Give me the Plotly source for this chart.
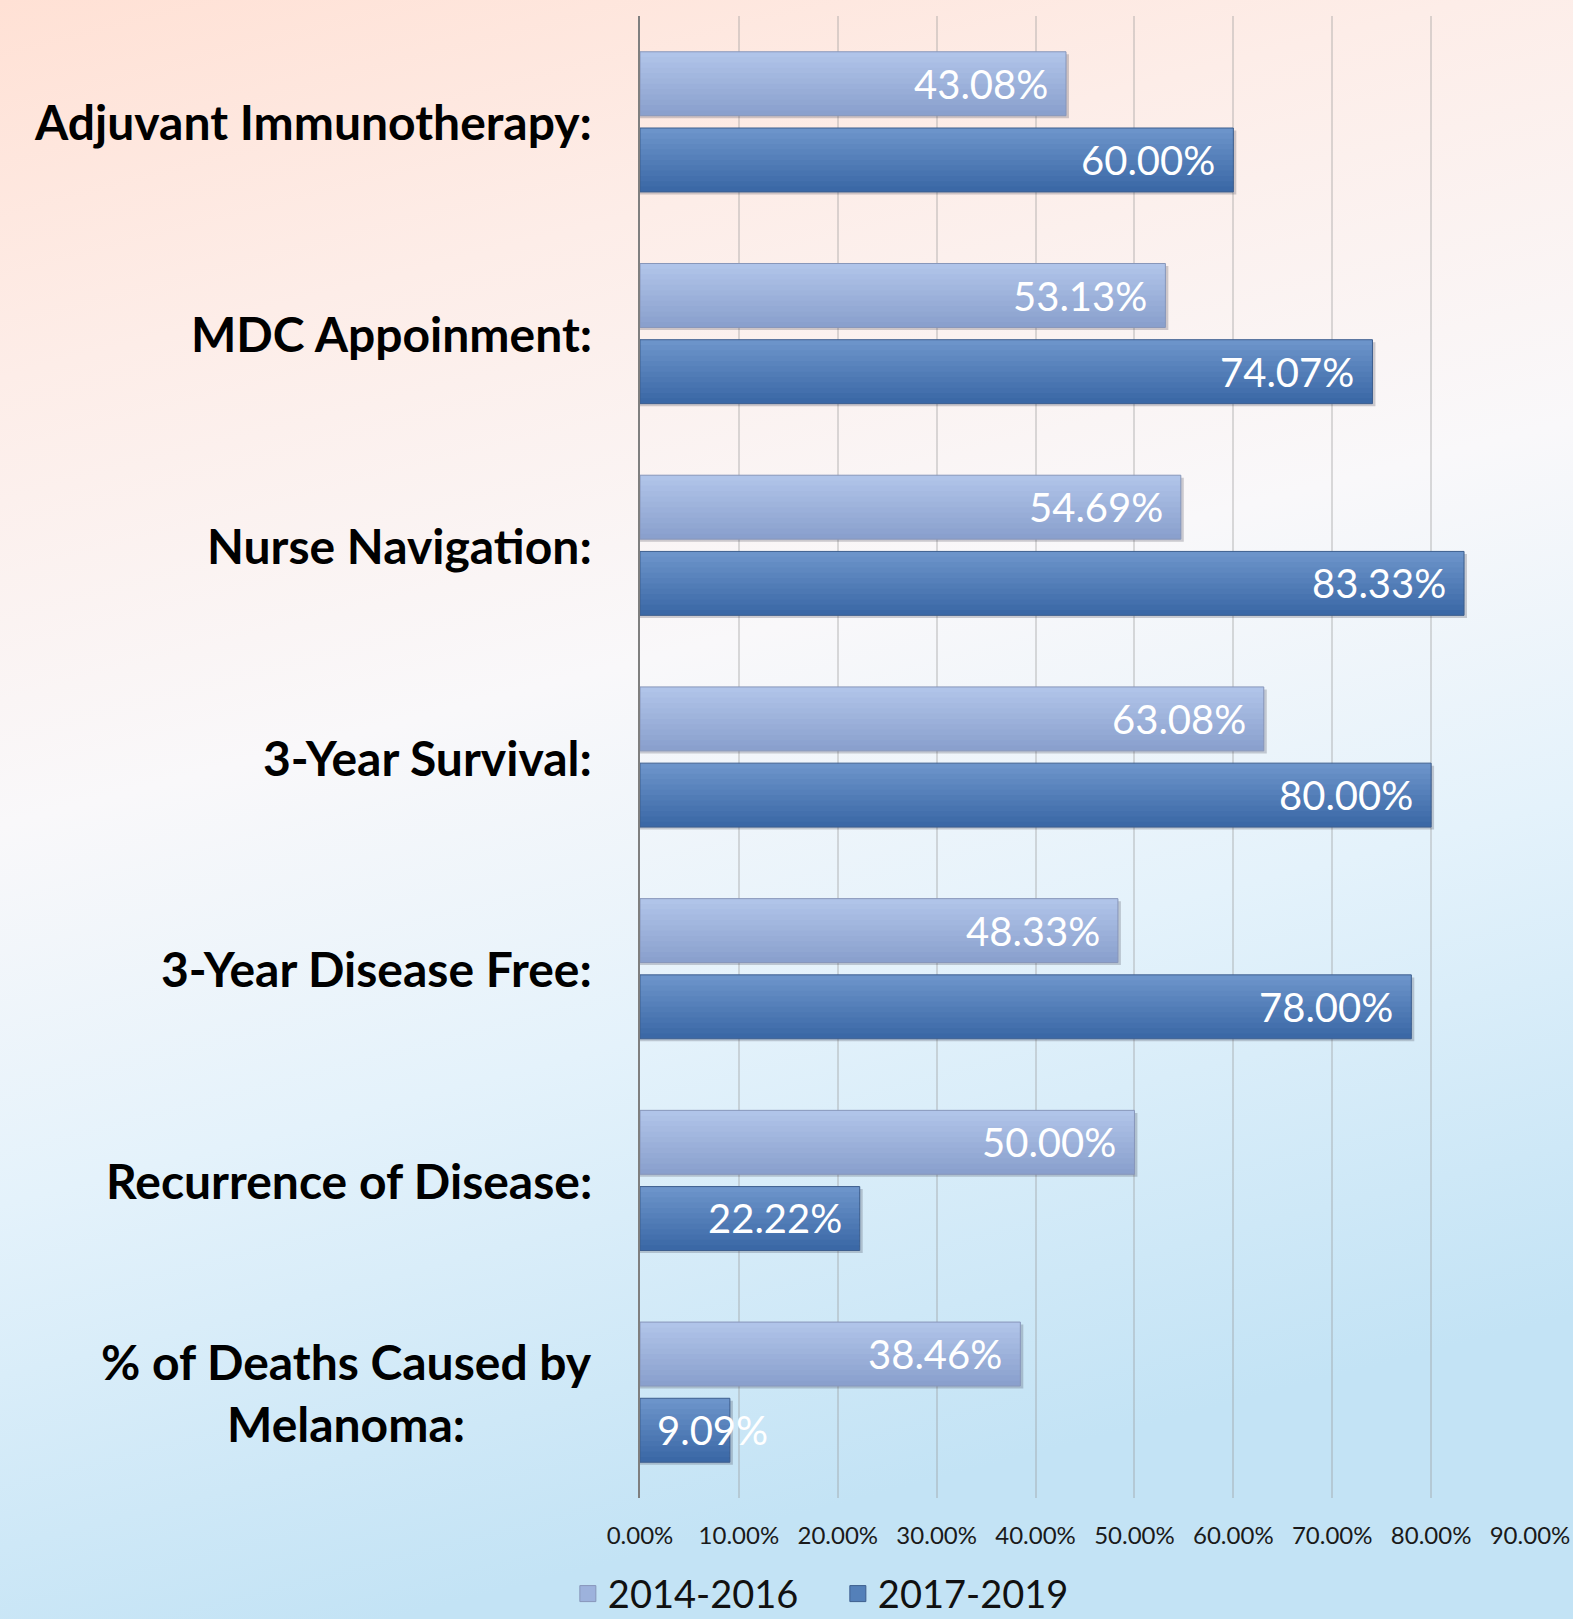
import base64
import plotly.graph_objects as go

categories = [
    "Adjuvant Immunotherapy:",
    "MDC Appoinment:",
    "Nurse Navigation:",
    "3-Year Survival:",
    "3-Year Disease Free:",
    "Recurrence of Disease:",
    "% of Deaths Caused by<br>Melanoma:",
]
series_names = ["2014-2016", "2017-2019"]
values_2014_2016 = [43.08, 53.13, 54.69, 63.08, 48.33, 50.00, 38.46]
values_2017_2019 = [60.00, 74.07, 83.33, 80.00, 78.00, 22.22, 9.09]
tick_values = [0, 10, 20, 30, 40, 50, 60, 70, 80, 90]
tick_labels = ["%.2f%%" % t for t in tick_values]

W, H = 1573, 1619
ML, MR, MT, MB = 640, 43, 16, 121
PW, PH = W - ML - MR, H - MT - MB

BAR_W = 0.302
OFFSETS = [-0.331, 0.029]
GRAD = [("#B0C4E9", "#8AA0CD"), ("#6C94CA", "#3B68A6")]
MID = ["#9DB2DC", "#5480B9"]
EDGE = ["#8796BA", "#3D5E8E"]
N = 12


def hex2rgb(h):
    h = h.lstrip("#")
    return tuple(int(h[i:i + 2], 16) for i in (0, 2, 4))


def lerp(c1, c2, t):
    a, b = hex2rgb(c1), hex2rgb(c2)
    return "rgb(%d,%d,%d)" % tuple(round(a[k] + (b[k] - a[k]) * t) for k in range(3))


fig = go.Figure()
series = [values_2014_2016, values_2017_2019]

# shadows
for s, vals in enumerate(series):
    fig.add_trace(go.Bar(
        y=categories, x=[v + 0.3 for v in vals], orientation="h",
        offset=OFFSETS[s] + 0.012, width=BAR_W,
        marker=dict(color="rgba(40,40,60,0.22)", line=dict(width=0)),
        showlegend=False, hoverinfo="skip"))

# gradient slices
for s, vals in enumerate(series):
    sw = BAR_W / N
    for i in range(N):
        t = i / (N - 1)
        w = sw * 1.4 if i < N - 1 else sw
        fig.add_trace(go.Bar(
            y=categories, x=vals, orientation="h",
            offset=OFFSETS[s] + i * sw, width=w,
            marker=dict(color=lerp(GRAD[s][0], GRAD[s][1], t), line=dict(width=0)),
            name=series_names[s], showlegend=False, hoverinfo="skip"))

# outlines
for s, vals in enumerate(series):
    fig.add_trace(go.Bar(
        y=categories, x=vals, orientation="h",
        offset=OFFSETS[s], width=BAR_W,
        marker=dict(color="rgba(0,0,0,0)", line=dict(color=EDGE[s], width=1)),
        showlegend=False, hoverinfo="skip"))

# legend entries
for s in range(2):
    fig.add_trace(go.Scatter(
        x=[None], y=[None], mode="markers", name=series_names[s],
        marker=dict(symbol="square", size=24, color=MID[s], line=dict(color=EDGE[s], width=1)),
        showlegend=True, hoverinfo="skip"))

annotations = []
for s, vals in enumerate(series):
    yshift = 38 if s == 0 else -38
    for cat, v in zip(categories, vals):
        if v < 15:
            annotations.append(dict(x=0, y=cat, xref="x", yref="y", text="%.2f%%" % v,
                                    xanchor="left", xshift=15, yshift=yshift, showarrow=False,
                                    font=dict(family="Lato", size=40, color="white")))
        else:
            annotations.append(dict(x=v, y=cat, xref="x", yref="y", text="%.2f%%" % v,
                                    xanchor="right", xshift=-16, yshift=yshift, showarrow=False,
                                    font=dict(family="Lato", size=40, color="white")))

for cat in categories:
    annotations.append(dict(x=0, y=cat, xref="paper", yref="y", text="<b>%s</b>" % cat,
                            xanchor="right", xshift=-46, showarrow=False, align="center",
                            font=dict(family="Lato", size=48, color="#000000")))

svg = """<svg xmlns='http://www.w3.org/2000/svg' width='1573' height='1619' preserveAspectRatio='none'>
<defs><linearGradient id='g' x1='0' y1='0' x2='0.25' y2='1'>
<stop offset='0' stop-color='#FFE1D5'/>
<stop offset='0.22' stop-color='#FDEDE8'/>
<stop offset='0.48' stop-color='#F9F8FA'/>
<stop offset='0.7' stop-color='#E4F2FB'/>
<stop offset='1' stop-color='#C3E3F5'/>
</linearGradient></defs>
<rect x='0' y='0' width='1573' height='1619' fill='url(#g)'/></svg>"""
src = "data:image/svg+xml;base64," + base64.b64encode(svg.encode()).decode()

fig.update_layout(
    width=W, height=H, autosize=False,
    margin=dict(l=ML, r=MR, t=MT, b=MB, autoexpand=False),
    paper_bgcolor="#D8ECF8", plot_bgcolor="rgba(0,0,0,0)",
    barmode="overlay",
    images=[dict(source=src, xref="paper", yref="paper", x=-ML / PW, y=1 + MT / PH,
                 sizex=W / PW, sizey=H / PH, xanchor="left", yanchor="top",
                 sizing="stretch", layer="below")],
    xaxis=dict(type="linear", range=[0, 90], tickvals=tick_values, ticktext=tick_labels,
               showgrid=True, gridcolor="rgba(150,150,150,0.33)", gridwidth=2,
               zeroline=False, ticks="", ticklabelstandoff=21, automargin=False,
               tickfont=dict(family="Lato", size=24, color="#1a1a1a")),
    yaxis=dict(type="category", categoryorder="array", categoryarray=categories,
               autorange="reversed", showticklabels=False, showgrid=False, automargin=False,
               showline=True, linecolor="#7F7F7F", linewidth=2, ticks="", zeroline=False),
    legend=dict(orientation="h", xref="container", yref="container",
                x=0.361, xanchor="left", y=0.0155, yanchor="middle",
                bgcolor="rgba(0,0,0,0)", entrywidth=225, entrywidthmode="pixels",
                font=dict(family="Lato", size=38, color="#111111")),
    annotations=annotations,
    showlegend=True,
)

fig.write_html(
    "out.html",
    config={"responsive": False, "displayModeBar": False},
    post_script="document.body.style.margin='0';document.body.style.overflow='hidden';",
)
